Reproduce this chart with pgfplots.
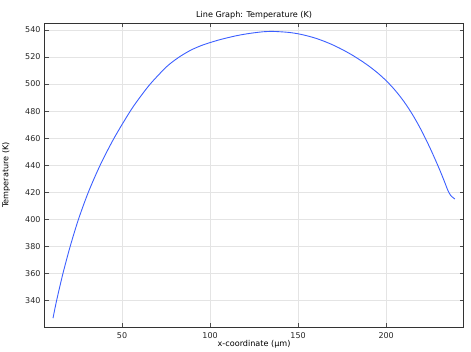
\documentclass[border=0pt]{standalone}
\usepackage{pgfplots}
\pgfplotsset{compat=1.18}
\usepackage{fontspec}
\setmainfont{DejaVu Sans}
\setsansfont{DejaVu Sans}
\definecolor{curveblue}{RGB}{60,95,255}
\definecolor{gridgray}{RGB}{228,228,228}
\begin{document}
\begin{tikzpicture}[x=1pt,y=1pt]
\path[use as bounding box] (0,0) rectangle (471,351);
\begin{axis}[
  at={(44.7pt,24pt)}, anchor=south west,
  scale only axis, width=418.8pt, height=304pt,
  xmin=6.1, xmax=243.9, ymin=320.2, ymax=545.2,
  xtick={50,100,150,200}, ytick={340,360,...,540},
  tick pos=both, tick align=inside,
  major tick length=4pt,
  grid=major, grid style={gridgray, line width=0.6pt},
  axis line style={black!80, line width=0.8pt},
  every tick/.style={black!70, line width=0.7pt},
  tick label style={font=\fontsize{8}{9}\selectfont, text=black!85},
  xticklabel style={anchor=center, inner sep=0pt, yshift=-8.7pt},
  yticklabel style={anchor=east, inner sep=0pt, xshift=-4pt},
  /pgf/number format/assume math mode=true,
  /pgf/number format/1000 sep={},
  every axis title shift=0pt,
  title={Line Graph: Temperature (K)},
  title style={font=\fontsize{8.1}{9}\selectfont, at={(axis description cs:0.5,1)}, anchor=center, inner sep=0pt, yshift=7.5pt},
  xlabel={x-coordinate (µm)},
  xlabel style={font=\fontsize{8.1}{9}\selectfont, at={(axis description cs:0.5,0)}, anchor=center, inner sep=0pt, yshift=-17pt},
  ylabel={Temperature (K)},
  ylabel style={font=\fontsize{8.1}{9}\selectfont, at={(axis description cs:-0.0919,0.5)}, anchor=center, inner sep=0pt},
]
\addplot[curveblue, line width=0.9pt, smooth, tension=0.5] coordinates {
(10.8,326.7) (12.9,340) (16.5,360) (20.6,380) (25.3,400) (30.9,420)
(37.6,440) (45.5,460) (54.7,480) (60,489.9) (66,500) (74,511.2)
(78,515.8) (82,519.6) (86,522.9) (90,525.7) (95,528.5) (100,530.7) (105,532.65)
(110,534.3) (115,535.8) (120,537.0) (125,537.95) (130,538.7) (135,539.0)
(140,538.7) (145,538.2) (150,537.2) (155,535.75) (160,533.9) (165,531.55)
(170,528.8) (175,525.6) (180,522.0) (183,519.6) (186,517.1) (190,513.5)
(195,508.4) (200,502.5) (205,495.5) (210,487.2) (215,477.3) (220,465.7)
(225,452.4) (230,437.7) (233,428.1) (235,421.4) (236.5,417.8)
(237.5,416.45) (239,414.95)
};
\end{axis}
\end{tikzpicture}
\end{document}
